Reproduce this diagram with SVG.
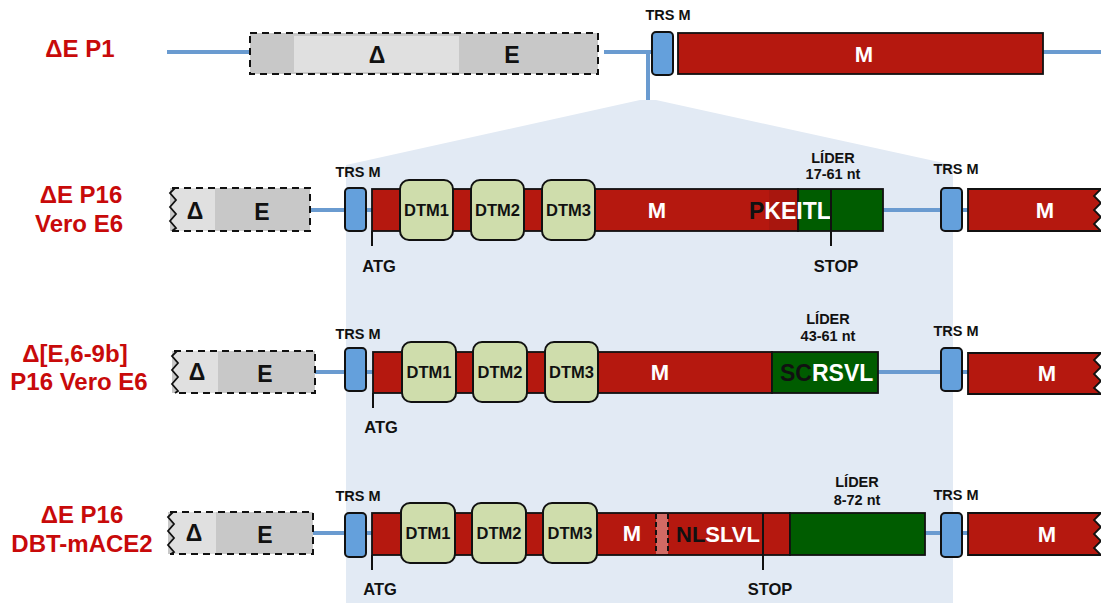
<svg xmlns="http://www.w3.org/2000/svg" width="1101" height="603" viewBox="0 0 1101 603">
<style>
text{font-family:"Liberation Sans",Arial,sans-serif;font-weight:bold;text-anchor:middle}
.lbl{fill:#c80a0a;font-size:24px}
.blk{fill:#111;font-size:14.5px}
.mk{fill:#111;font-size:16.5px}
.de{fill:#111;font-size:23px}
.mw{fill:#fff;font-size:22px}
.dtm{fill:#111;font-size:16.5px}
.seq{font-size:23px;text-anchor:start}
.bl{fill:none;stroke:#6a9bd0;stroke-width:4}
.trs{fill:#64a0dc;stroke:#111;stroke-width:2}
.red{fill:#b5180f;stroke:#111;stroke-width:1.8}
.grn{fill:#005c00;stroke:#111;stroke-width:1.8}
.dt{fill:#cfddac;stroke:#111;stroke-width:2}
.gray{fill:#c8c8c8}
.lgray{fill:#e0e0e0}
.dash{fill:none;stroke:#111;stroke-width:2;stroke-dasharray:7,5}
.zz{fill:none;stroke:#111;stroke-width:1.8}
.tick{stroke:#111;stroke-width:2}
</style>

<polygon id="zoom-region" points="346,165 640,100 656,100 953,165 953,603 346,603" fill="#e2eaf4"/>

<g id="connectors">
  <line class="bl" x1="167" y1="52" x2="250" y2="52"/>
  <polyline class="bl" points="604,52 648,52 648,100"/>
  <line class="bl" x1="648" y1="52" x2="652" y2="52"/>
  <line class="bl" x1="1043" y1="52" x2="1101" y2="52"/>
  <line class="bl" x1="310" y1="210" x2="345" y2="210"/>
  <line class="bl" x1="366" y1="210" x2="372" y2="210"/>
  <line class="bl" x1="883" y1="210" x2="941" y2="210"/>
  <line class="bl" x1="962" y1="210" x2="968" y2="210"/>
  <line class="bl" x1="315" y1="372" x2="345" y2="372"/>
  <line class="bl" x1="366" y1="372" x2="373" y2="372"/>
  <line class="bl" x1="878" y1="372" x2="941" y2="372"/>
  <line class="bl" x1="962" y1="372" x2="968" y2="372"/>
  <line class="bl" x1="313" y1="533" x2="345" y2="533"/>
  <line class="bl" x1="366" y1="533" x2="372" y2="533"/>
  <line class="bl" x1="925" y1="533" x2="941" y2="533"/>
  <line class="bl" x1="962" y1="533" x2="968" y2="533"/>
</g>

<!-- Row 1 -->
<g id="label-p1"><text class="lbl" x="80" y="57">ΔE P1</text></g>
<g id="r1-de">
  <rect class="gray" x="250" y="33" width="348" height="41"/>
  <rect class="lgray" x="294" y="36" width="165" height="36"/>
  <rect class="dash" x="250" y="33" width="348" height="41"/>
  <text class="de" x="377" y="63">Δ</text>
  <text class="de" x="512" y="63">E</text>
</g>
<g id="r1-trs">
  <rect class="trs" x="652" y="32" width="21" height="43" rx="4"/>
  <text class="blk" x="668" y="20">TRS M</text>
</g>
<g id="r1-m">
  <rect class="red" x="678" y="33" width="365" height="41"/>
  <text class="mw" x="864" y="62">M</text>
</g>

<!-- Row 2 -->
<g id="label-r2"><text class="lbl" x="81" y="203">ΔE P16</text><text class="lbl" x="79" y="232">Vero E6</text></g>
<g id="r2-de">
  <path class="gray" d="M170,188 H310 V231 H170 Z"/>
  <path class="lgray" d="M175,188 H215 V231 H175 Z"/>
  <path class="lgray" d="M175,188 L170,193 L176,200 L170,207 L176,214 L170,221 L176,228 L172,231 H176 V188 Z"/>
  <path class="dash" d="M172,188 H310 V231 H172"/>
  <path class="zz" d="M175,188 L170,193 L176,200 L170,207 L176,214 L170,221 L176,228 L172,231"/>
  <text class="de" x="195" y="219">Δ</text>
  <text class="de" x="262" y="220">E</text>
</g>
<g id="r2-trs">
  <rect class="trs" x="345" y="188" width="21" height="43" rx="4"/>
  <text class="blk" x="358" y="177">TRS M</text>
</g>
<g id="r2-orf">
  <rect class="red" x="372" y="189" width="426" height="42"/>
  <rect x="769" y="190" width="29" height="40" fill="#a8160e"/>
  <rect class="grn" x="798" y="189" width="85" height="42"/>
  <rect class="dt" x="400" y="180" width="53" height="60" rx="9"/>
  <rect class="dt" x="471" y="180" width="53" height="60" rx="9"/>
  <rect class="dt" x="542" y="180" width="53" height="60" rx="9"/>
  <text class="dtm" x="426.5" y="216">DTM1</text>
  <text class="dtm" x="497.5" y="216">DTM2</text>
  <text class="dtm" x="568.5" y="216">DTM3</text>
  <text class="mw" x="657" y="218">M</text>
  <text class="seq" x="749" y="219"><tspan fill="#111">P</tspan><tspan fill="#fff">KEITL</tspan></text>
  <line class="tick" x1="372" y1="231" x2="372" y2="246"/>
  <line class="tick" x1="831" y1="189" x2="831" y2="246"/>
  <text class="mk" x="379" y="272">ATG</text>
  <text class="mk" x="836" y="272">STOP</text>
  <text class="blk" x="833" y="163">LÍDER</text>
  <text class="blk" x="833" y="179">17-61 nt</text>
</g>
<g id="r2-trs2">
  <rect class="trs" x="941" y="188" width="21" height="43" rx="4"/>
  <text class="blk" x="956" y="174">TRS M</text>
</g>
<g id="r2-m2">
  <path class="red" d="M968,189 H1101 L1094,196 L1101,203 L1094,210 L1101,217 L1094,224 L1101,231 H968 Z"/>
  <text class="mw" x="1045" y="218">M</text>
</g>

<!-- Row 3 -->
<g id="label-r3"><text class="lbl" x="75" y="362">Δ[E,6-9b]</text><text class="lbl" x="79" y="390">P16 Vero E6</text></g>
<g id="r3-de">
  <path class="gray" d="M172,351 H315 V393 H172 Z"/>
  <path class="lgray" d="M176,351 H218 V393 H176 Z"/>
  <path class="lgray" d="M177,351 L172,356 L178,363 L172,370 L178,377 L172,384 L178,391 L175,393 H178 V351 Z"/>
  <path class="dash" d="M174,351 H315 V393 H174"/>
  <path class="zz" d="M177,351 L172,356 L178,363 L172,370 L178,377 L172,384 L178,391 L175,393"/>
  <text class="de" x="197" y="380">Δ</text>
  <text class="de" x="265" y="382">E</text>
</g>
<g id="r3-trs">
  <rect class="trs" x="345" y="348" width="21" height="43" rx="4"/>
  <text class="blk" x="358" y="339">TRS M</text>
</g>
<g id="r3-orf">
  <rect class="red" x="373" y="352" width="399" height="41"/>
  <rect class="grn" x="772" y="352" width="106" height="41"/>
  <rect class="dt" x="402" y="342" width="54" height="60" rx="9"/>
  <rect class="dt" x="473" y="342" width="54" height="60" rx="9"/>
  <rect class="dt" x="545" y="342" width="53" height="60" rx="9"/>
  <text class="dtm" x="429" y="378">DTM1</text>
  <text class="dtm" x="500" y="378">DTM2</text>
  <text class="dtm" x="571.5" y="378">DTM3</text>
  <text class="mw" x="660" y="380">M</text>
  <text class="seq" x="780" y="381"><tspan fill="#111">SC</tspan><tspan fill="#fff">RSVL</tspan></text>
  <line class="tick" x1="373" y1="393" x2="373" y2="408"/>
  <text class="mk" x="381" y="433">ATG</text>
  <text class="blk" x="828" y="324">LÍDER</text>
  <text class="blk" x="828" y="341">43-61 nt</text>
</g>
<g id="r3-trs2">
  <rect class="trs" x="941" y="348" width="21" height="43" rx="4"/>
  <text class="blk" x="956" y="336">TRS M</text>
</g>
<g id="r3-m2">
  <path class="red" d="M968,353 H1101 L1094,360 L1101,367 L1094,374 L1101,381 L1094,388 L1101,394 H968 Z"/>
  <text class="mw" x="1047" y="381">M</text>
</g>

<!-- Row 4 -->
<g id="label-r4"><text class="lbl" x="82" y="523">ΔE P16</text><text class="lbl" x="82" y="552">DBT-mACE2</text></g>
<g id="r4-de">
  <path class="gray" d="M168,512 H313 V554 H168 Z"/>
  <path class="lgray" d="M172,512 H216 V554 H172 Z"/>
  <path class="lgray" d="M173,512 L168,517 L174,524 L168,531 L174,538 L168,545 L174,552 L171,554 H174 V512 Z"/>
  <path class="dash" d="M170,512 H313 V554 H170"/>
  <path class="zz" d="M173,512 L168,517 L174,524 L168,531 L174,538 L168,545 L174,552 L171,554"/>
  <text class="de" x="194" y="541">Δ</text>
  <text class="de" x="265" y="543">E</text>
</g>
<g id="r4-trs">
  <rect class="trs" x="345" y="513" width="21" height="44" rx="4"/>
  <text class="blk" x="358" y="501">TRS M</text>
</g>
<g id="r4-orf">
  <rect class="red" x="372" y="513" width="418" height="42"/>
  <rect class="grn" x="790" y="513" width="135" height="42"/>
  <rect x="656" y="514" width="12" height="40" fill="#d26a64"/>
  <line x1="656" y1="514" x2="656" y2="555" stroke="#111" stroke-width="2" stroke-dasharray="5,3"/>
  <line x1="668" y1="514" x2="668" y2="555" stroke="#111" stroke-width="2" stroke-dasharray="5,3"/>
  <rect class="dt" x="401" y="503" width="54" height="60" rx="9"/>
  <rect class="dt" x="472" y="503" width="54" height="60" rx="9"/>
  <rect class="dt" x="543" y="503" width="54" height="60" rx="9"/>
  <text class="dtm" x="428" y="539">DTM1</text>
  <text class="dtm" x="499" y="539">DTM2</text>
  <text class="dtm" x="570" y="539">DTM3</text>
  <text class="mw" x="632" y="541">M</text>
  <text class="seq" x="676" y="542" style="font-size:22px"><tspan fill="#111">NL</tspan><tspan fill="#fff">SLVL</tspan></text>
  <line class="tick" x1="372" y1="555" x2="372" y2="570"/>
  <line class="tick" x1="763" y1="513" x2="763" y2="570"/>
  <text class="mk" x="380" y="595">ATG</text>
  <text class="mk" x="770" y="595">STOP</text>
  <text class="blk" x="857" y="487">LÍDER</text>
  <text class="blk" x="857" y="505">8-72 nt</text>
</g>
<g id="r4-trs2">
  <rect class="trs" x="941" y="513" width="21" height="44" rx="4"/>
  <text class="blk" x="956" y="500">TRS M</text>
</g>
<g id="r4-m2">
  <path class="red" d="M968,513 H1101 L1094,520 L1101,527 L1094,534 L1101,541 L1094,548 L1101,555 H968 Z"/>
  <text class="mw" x="1047" y="542">M</text>
</g>
</svg>
